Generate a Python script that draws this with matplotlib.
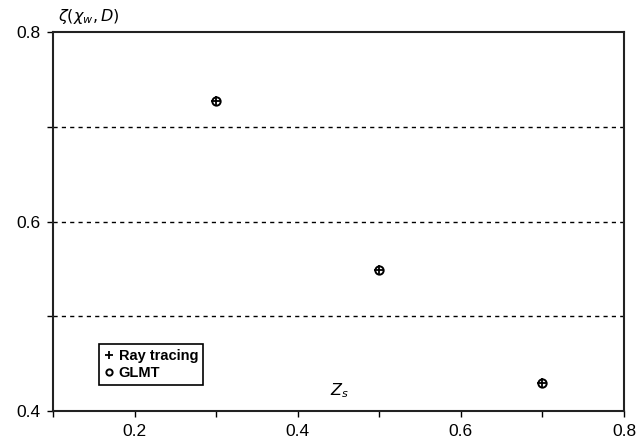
import matplotlib
matplotlib.use("Agg")
import matplotlib.pyplot as plt
from matplotlib.ticker import FixedLocator

plt.rcParams['font.family'] = ['Liberation Sans', 'DejaVu Sans']

zs = [0.3, 0.5, 0.7]
ray_tracing = [0.727, 0.549, 0.430]
glmt = [0.727, 0.549, 0.430]
x_tick_labels = ['0.2', '0.4', '0.6', '0.8']
y_tick_labels = ['0.4', '0.6', '0.8']

fig = plt.figure(figsize=(6.36, 4.38), dpi=100)
ax = fig.add_axes([53/636, 1-411/438, (624-53)/636, (411-32)/438])

ax.plot(zs, ray_tracing, linestyle='none', marker='+', color='black',
        markersize=7, markeredgewidth=1.3, label='Ray tracing')
ax.plot(zs, glmt, linestyle='none', marker='o', markerfacecolor='none',
        markeredgecolor='black', markersize=6, markeredgewidth=1.4, label='GLMT')

ax.set_xlim(0.1, 0.8)
ax.set_ylim(0.4, 0.8)

ax.xaxis.set_major_locator(FixedLocator([0.2, 0.4, 0.6, 0.8]))
ax.set_xticklabels(x_tick_labels)
ax.xaxis.set_minor_locator(FixedLocator([0.1, 0.3, 0.5, 0.7]))
ax.yaxis.set_major_locator(FixedLocator([0.4, 0.6, 0.8]))
ax.set_yticklabels(y_tick_labels)
ax.yaxis.set_minor_locator(FixedLocator([0.5, 0.7]))

for y in [0.5, 0.6, 0.7]:
    ax.axhline(y, color='black', linestyle=(0, (3, 3)), linewidth=1.0, zorder=0)

ax.tick_params(axis='both', which='both', direction='out', length=4, width=1,
               labelsize=12.5, color='black')
ax.tick_params(axis='x', pad=5)
ax.tick_params(axis='y', pad=5)
for s in ax.spines.values():
    s.set_linewidth(1.5)
    s.set_color('#222222')

fig.text(58/636, 1-16/438, r'$\zeta(\chi_w, D)$', fontsize=11.5, ha='left', va='center')
ax.text(0.451, 0.421, r'$Z_s$', fontsize=11.5, ha='center', va='center')

leg = ax.legend(loc='lower left', bbox_to_anchor=(0.0806, 0.0686), frameon=True,
                borderaxespad=0, fancybox=False, edgecolor='black', framealpha=1,
                fontsize=10.5, handlelength=0.6, handletextpad=0.4, borderpad=0.35,
                labelspacing=0.2, markerscale=0.75)
leg.get_frame().set_linewidth(1.2)
for t in leg.get_texts():
    t.set_fontweight('bold')

fig.savefig('out.png', dpi=100)
